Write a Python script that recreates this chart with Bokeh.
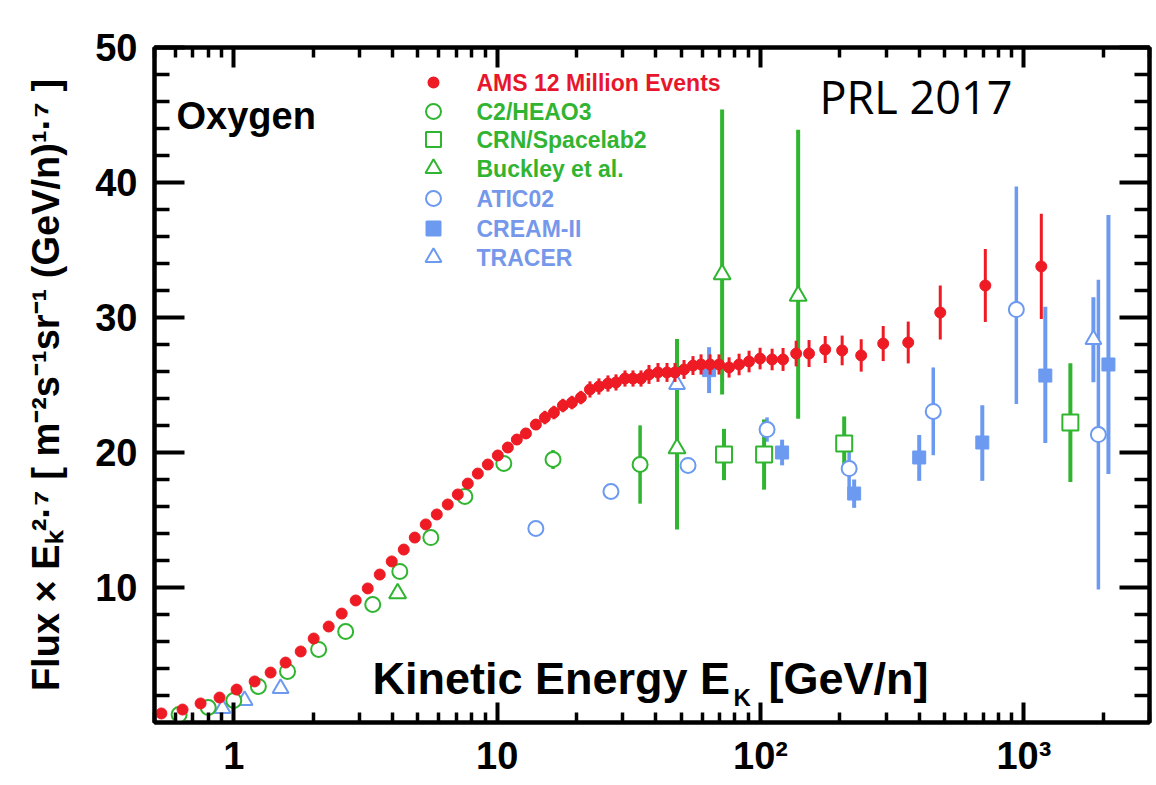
import numpy as np
from bokeh.plotting import figure
from bokeh.models import FixedTicker, LogAxis, LinearAxis, Label
from bokeh.embed import file_html
from bokeh.resources import INLINE

# ---------------- data: Oxygen flux x E^2.7 ----------------
ams_e = [0.531, 0.639, 0.748, 0.883, 1.025, 1.20, 1.38, 1.573, 1.795, 2.011,
         2.293, 2.569, 2.904, 3.226, 3.583, 3.979, 4.42, 4.866, 5.358, 5.90,
         6.494, 7.089, 7.738, 8.446, 9.218, 10.06, 10.98, 11.88, 12.86, 14.03,
         15.18, 16.43, 17.77, 19.23, 20.80, 22.51, 24.35, 26.35, 28.27, 30.58,
         32.80, 35.18, 37.73, 40.81, 44.16, 47.35, 51.24, 55.42, 59.47, 64.33,
         69.58, 75.99, 82.94, 90.50, 99.65, 110.7, 121.8, 136.6, 152.9, 176.1,
         204.2, 241.2, 292.4, 363.9, 481.5, 714.0, 1165.0]
ams_f = [0.67, 0.96, 1.41, 1.85, 2.44, 3.04, 3.70, 4.44, 5.26, 6.22,
         7.11, 8.07, 9.04, 9.93, 10.96, 11.93, 12.81, 13.70, 14.67, 15.41,
         16.15, 16.89, 17.70, 18.44, 19.11, 19.78, 20.37, 20.96, 21.41, 22.07,
         22.59, 22.96, 23.48, 23.70, 24.07, 24.67, 24.89, 25.11, 25.19, 25.48,
         25.48, 25.48, 25.78, 25.93, 25.93, 25.93, 26.15, 26.44, 26.52, 26.52,
         26.52, 26.30, 26.52, 26.74, 26.96, 26.89, 26.89, 27.33, 27.33, 27.63,
         27.56, 27.19, 28.07, 28.15, 30.37, 32.37, 33.78]
ams_err = [0.1, 0.1, 0.1, 0.1, 0.1, 0.1, 0.1, 0.1, 0.1, 0.1,
           0.1, 0.1, 0.1, 0.1, 0.1, 0.1, 0.1, 0.1, 0.1, 0.1,
           0.3, 0.3, 0.3, 0.3, 0.3, 0.4, 0.4, 0.4, 0.4, 0.4,
           0.5, 0.5, 0.5, 0.5, 0.5, 0.6, 0.6, 0.6, 0.6, 0.6,
           0.6, 0.6, 0.7, 0.7, 0.7, 0.7, 0.7, 0.7, 0.75, 0.75,
           0.75, 0.75, 0.8, 0.8, 0.8, 0.8, 0.85, 0.95, 1.0, 1.0,
           1.1, 1.2, 1.3, 1.55, 2.0, 2.7, 3.9]

heao_e = [0.62, 0.80, 1.0, 1.24, 1.60, 2.10, 2.66, 3.37, 4.27, 5.60, 7.54, 10.6, 16.3, 34.9]
heao_f = [0.59, 1.11, 1.63, 2.67, 3.78, 5.41, 6.74, 8.74, 11.19, 13.70, 16.74, 19.19, 19.48, 19.11]
heao_err = [0.1, 0.1, 0.1, 0.1, 0.15, 0.2, 0.2, 0.25, 0.3, 0.35, 0.4, 0.5, 0.7, 2.9]

crn_e = [72.7, 103.2, 207.9, 1502.0]
crn_f = [19.85, 19.85, 20.67, 22.22]
crn_err = [1.9, 2.6, 2.0, 4.4]

buck_e = [4.19, 48.2, 71.5, 139.0]
buck_f = [9.56, 20.3, 33.2, 31.6]
buck_lo = [9.56, 14.3, 24.3, 22.5]
buck_hi = [9.56, 28.4, 45.4, 43.9]

atic_e = [14.03, 27.05, 53.07, 105.9, 217.1, 452.9, 936.6, 1919.0]
atic_f = [14.37, 17.11, 19.04, 21.70, 18.81, 23.04, 30.59, 21.33]
atic_lo = [14.37, 17.11, 19.04, 20.8, 17.4, 19.8, 23.6, 9.85]
atic_hi = [14.37, 17.11, 19.04, 22.6, 20.2, 26.3, 39.7, 32.8]

cream_e = [63.8, 120.8, 226.8, 400.6, 695.4, 1206.5, 2095.0]
cream_f = [26.1, 20.0, 16.96, 19.63, 20.74, 25.70, 26.52]
cream_lo = [24.4, 19.05, 15.9, 17.9, 17.9, 20.7, 18.4]
cream_hi = [27.8, 20.95, 18.0, 21.3, 23.5, 30.8, 37.6]

tracer_e = [0.906, 1.099, 1.506, 48.2, 1837.0]
tracer_f = [1.04, 1.63, 2.52, 25.04, 28.37]
tracer_lo = [1.04, 1.63, 2.52, 24.6, 25.2]
tracer_hi = [1.04, 1.63, 2.52, 25.5, 31.5]

legend_names = ["AMS 12 Million Events", "C2/HEAO3", "CRN/Spacelab2",
                "Buckley et al.", "ATIC02", "CREAM-II", "TRACER"]

x_major = [1, 10, 100, 1000]
x_tick_text = ["1", "10", "10²", "10³"]
y_major = [10, 20, 30, 40, 50]
y_title = "Flux × Eₖ²·⁷ [ m⁻²s⁻¹sr⁻¹ (GeV/n)¹·⁷ ]"

# ---------------- geometry / style ----------------
RED = "#ee1a24"
GREEN = "#2fb52f"
BLUE = "#6c9af0"
RED_TXT = "#e8162c"
GREEN_TXT = "#31b431"
BLUE_TXT = "#7698ea"
FONT = "Liberation Sans"

W, H = 1156, 785
X_LO, X_HI = 0.5, 3000.0
Y_LO, Y_HI = 0.0, 50.0
FL, FR, FT, FB = 154, 1149, 47, 722   # frame edges (page px)
PPD = (FR - FL) / np.log10(X_HI / X_LO)  # px per decade


def px_x(px):
    return X_LO * 10 ** ((px - FL) / PPD)


def px_y(py):
    return Y_LO + (FB - py) / (FB - FT) * (Y_HI - Y_LO)


p = figure(width=W, height=H, x_axis_type="log",
           x_range=(X_LO, X_HI), y_range=(Y_LO, Y_HI),
           output_backend="svg", toolbar_location=None,
           min_border_left=FL, min_border_right=W - FR,
           min_border_top=FT, min_border_bottom=H - FB)
p.grid.visible = False
p.outline_line_color = "black"
p.outline_line_width = 4
p.background_fill_color = "white"
p.border_fill_color = "white"

x_minor = [m * d for d in (0.1, 1, 10, 100, 1000) for m in range(2, 10)]
y_minor = [v for v in range(2, 50, 2) if v % 10]


def style_axis(ax, ticker, major_len, minor_len, show_labels, standoff=17):
    ax.ticker = ticker
    ax.axis_line_width = 4
    ax.axis_line_color = "black"
    ax.major_tick_line_width = 4
    ax.minor_tick_line_width = 3.5
    ax.major_tick_in = major_len
    ax.major_tick_out = 0
    ax.minor_tick_in = minor_len
    ax.minor_tick_out = 0
    if show_labels:
        ax.major_label_text_font = FONT
        ax.major_label_text_font_style = "bold"
        ax.major_label_text_font_size = "38px"
        ax.major_label_text_color = "black"
        ax.major_label_standoff = standoff
    else:
        ax.major_label_text_font_size = "1px"
        ax.major_label_text_alpha = 0
        ax.major_label_standoff = 0


style_axis(p.xaxis[0], FixedTicker(ticks=x_major, minor_ticks=x_minor), 20, 10, True, 12)
p.xaxis[0].major_label_overrides = dict(zip(x_major, x_tick_text))

yax = p.yaxis[0]
style_axis(yax, FixedTicker(ticks=y_major, minor_ticks=y_minor), 30, 15, True, 17)
yax.axis_label = y_title
yax.axis_label_text_font = FONT
yax.axis_label_text_font_style = "bold"
yax.axis_label_text_font_size = "38px"
yax.axis_label_text_color = "black"
yax.axis_label_standoff = 25

top_ax = LogAxis()
style_axis(top_ax, FixedTicker(ticks=x_major, minor_ticks=x_minor), 20, 10, False)
p.add_layout(top_ax, "above")
right_ax = LinearAxis()
style_axis(right_ax, FixedTicker(ticks=y_major, minor_ticks=y_minor), 30, 15, False)
p.add_layout(right_ax, "right")

# ---------------- data marks ----------------
def bars(e, lo, hi, color, width):
    p.segment(x0=e, y0=lo, x1=e, y1=hi, line_color=color, line_width=width)


def sym(lst_f, lst_d, sign):
    return [f + sign * d for f, d in zip(lst_f, lst_d)]


# blue experiments
bars(cream_e, cream_lo, cream_hi, BLUE, 4)
p.scatter(cream_e, cream_f, marker="square", size=13, fill_color=BLUE, line_color=BLUE)
bars(atic_e, atic_lo, atic_hi, BLUE, 3.5)
bars(tracer_e, tracer_lo, tracer_hi, BLUE, 4)

# green experiments
bars(heao_e, sym(heao_f, heao_err, -1), sym(heao_f, heao_err, 1), GREEN, 3.5)
bars(crn_e, sym(crn_f, crn_err, -1), sym(crn_f, crn_err, 1), GREEN, 4)
bars(buck_e, buck_lo, buck_hi, GREEN, 4)

p.scatter(atic_e, atic_f, marker="circle", size=15, fill_color="white",
          line_color=BLUE, line_width=2)
p.scatter(tracer_e, tracer_f, marker="triangle", size=16, fill_color="white",
          line_color=BLUE, line_width=2)
p.scatter(heao_e, heao_f, marker="circle", size=15, fill_color="white",
          line_color=GREEN, line_width=2)
p.scatter(crn_e, crn_f, marker="square", size=16, fill_color="white",
          line_color=GREEN, line_width=2)
p.scatter(buck_e, buck_f, marker="triangle", size=17, fill_color="white",
          line_color=GREEN, line_width=2)

# AMS on top
bars(ams_e, sym(ams_f, ams_err, -1), sym(ams_f, ams_err, 1), RED, 3)
p.scatter(ams_e, ams_f, marker="circle", size=11, fill_color=RED, line_color=RED)

# ---------------- legend ----------------
leg_mx = px_x(433)
leg_tx = px_x(476)
leg_rows = [px_y(v) for v in (82, 111, 139, 168, 198, 228, 257)]
leg_style = [
    ("circle", 10, RED, RED, RED_TXT),
    ("circle", 15, "white", GREEN, GREEN_TXT),
    ("square", 15, "white", GREEN, GREEN_TXT),
    ("triangle", 16, "white", GREEN, GREEN_TXT),
    ("circle", 15, "white", BLUE, BLUE_TXT),
    ("square", 14, BLUE, BLUE, BLUE_TXT),
    ("triangle", 16, "white", BLUE, BLUE_TXT),
]
for name, yrow, (mk, sz, fc, lc, tc) in zip(legend_names, leg_rows, leg_style):
    p.scatter([leg_mx], [yrow], marker=mk, size=sz, fill_color=fc,
              line_color=lc, line_width=2)
    p.add_layout(Label(x=leg_tx, y=yrow, text=name, text_font=FONT,
                       text_font_style="bold", text_font_size="23px",
                       text_color=tc, text_baseline="middle", text_align="left"))

# ---------------- texts inside the frame ----------------
def lab(xd, yd, text, size, style="bold", color="black", align="left",
        baseline="alphabetic", font=FONT):
    p.add_layout(Label(x=xd, y=yd, text=text, text_font=font,
                       text_font_style=style, text_font_size=f"{size}px",
                       text_color=color, text_align=align,
                       text_baseline=baseline))


lab(px_x(176), px_y(115), "Oxygen", 38)
lab(px_x(819), px_y(96), "PRL 2017", 45, style="normal", font="Open Sans")

# x-axis title
lab(px_x(372), px_y(678), "Kinetic Energy E", 45)
lab(px_x(733), px_y(697), "K", 24)
lab(px_x(768), px_y(678), "[GeV/n]", 45)

open("out.html", "w").write(file_html(p, INLINE))
